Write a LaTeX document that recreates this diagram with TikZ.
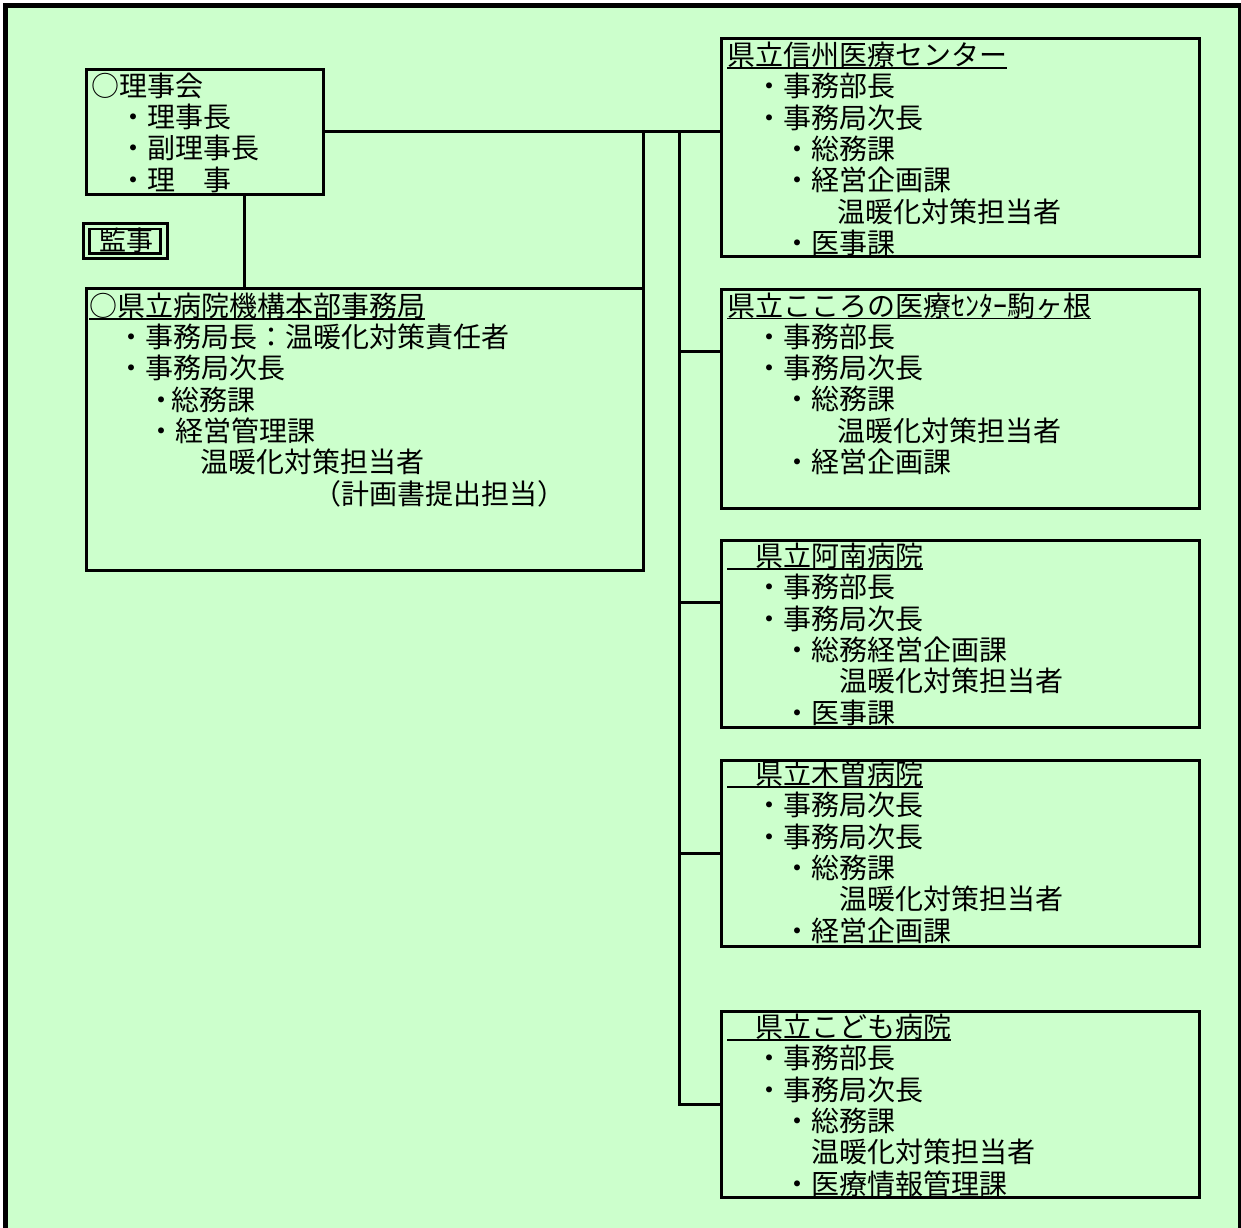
\documentclass[tikz,border=0pt]{standalone}
\usepackage{fontspec}
\newfontfamily\cjk{Noto Sans CJK JP}
\definecolor{bg}{RGB}{204,255,204}
\tikzset{
 boxn/.style={draw, line width=3pt, inner sep=0pt, outer sep=0pt, anchor=north west},
 txt/.style={anchor=base west, inner sep=0pt, outer sep=0pt, font=\cjk\fontsize{28}{31}\selectfont, text=black},
 conn/.style={line width=3pt},
 uline/.style={line width=1.8pt},
}
\newcommand\tline[4]{\node[txt] (#1) at (#2,#3) {#4};}
\newcommand\undl[1]{\draw[uline] ([yshift=-2.5pt]#1.base west) -- ([yshift=-2.5pt]#1.base east);}
\begin{document}
\begin{tikzpicture}[x=1pt,y=-1pt]
\useasboundingbox (0,0) rectangle (1241,1227);
\begin{scope}
\clip (0,0) rectangle (1241,1227);
\path[fill=bg] (5.5,5.5) rectangle (1240,1245);
\draw[line width=4.5pt] (5.5,1245) -- (5.5,5.5) -- (1240,5.5) -- (1240,1245);
\end{scope}

% boxes
\node[boxn, minimum width=237.3pt, minimum height=125pt] (rij) at (86,69) {};
\node[draw, line width=3.5pt, inner sep=0pt, minimum width=83.6pt, minimum height=34.6pt] (kanji) at (125.5,241) {};
\node[draw, line width=2.5pt, inner sep=0pt, minimum width=71.4pt, minimum height=24.5pt] (kanjiin) at (125,241.2) {};
\node[inner sep=0pt, font=\cjk\fontsize{27}{30}\selectfont] (kanjit) at (126.5,240) {監事};
\node[boxn, minimum width=557pt, minimum height=281.8pt] (hq) at (86,288.7) {};
\node[boxn, minimum width=478pt, minimum height=218pt] (r1) at (721,38) {};
\node[boxn, minimum width=478pt, minimum height=219pt] (r2) at (721,289) {};
\node[boxn, minimum width=478pt, minimum height=186.5pt] (r3) at (721,540.5) {};
\node[boxn, minimum width=478pt, minimum height=186.5pt] (r4) at (721,760) {};
\node[boxn, minimum width=478pt, minimum height=186.5pt] (r5) at (721,1011) {};

% connectors
\coordinate (spine) at (244.7,0);
\coordinate (bus) at (679,0);
\path (r2.north west) ++(0,62.3) coordinate (b2);
\path (r3.north west) ++(0,61.5) coordinate (b3);
\draw[conn] (rij.east) -- (r1.west |- rij.east);
\draw[conn] (rij.south -| spine) -- (hq.north -| spine);
\draw[conn] (hq.north east) -- (hq.north east |- rij.east);
\draw[conn] (bus |- rij.east) -- (bus |- r5.west) -- (r5.west);
\draw[conn] (bus |- b2) -- (b2);
\draw[conn] (bus |- b3) -- (b3);
\draw[conn] (bus |- r4.west) -- (r4.west);

% 理事会
\tline{a0}{91.5}{96.3}{○理事会}
\tline{a1}{119.5}{127.6}{・理事長}
\tline{a2}{119.5}{158.9}{・副理事長}
\tline{a3}{119.5}{190.2}{・理　事}

% 本部事務局
\tline{h0}{89}{316.3}{○県立病院機構本部事務局}
\undl{h0}
\tline{h1}{117}{347.6}{・事務局長：温暖化対策責任者}
\tline{h2}{117}{378.9}{・事務局次長}
\tline{h3}{147}{410.2}{・\kern-4pt 総務課}
\tline{h4}{147}{441.5}{・経営管理課}
\tline{h5}{200}{472.8}{温暖化対策担当者}
\tline{h6}{313}{504.1}{（計画書提出担当）}

% 信州
\tline{s0}{727}{65.5}{県立信州医療センター}
\undl{s0}
\tline{s1}{755}{96.8}{・事務部長}
\tline{s2}{755}{128.1}{・事務局次長}
\tline{s3}{783}{159.4}{・総務課}
\tline{s4}{783}{190.7}{・経営企画課}
\tline{s5}{837}{222}{温暖化対策担当者}
\tline{s6}{783}{253.3}{・医事課}

% こころ
\tline{k0}{727}{316}{県立こころの医療ｾﾝﾀｰ駒ヶ根}
\undl{k0}
\tline{k1}{755}{347.3}{・事務部長}
\tline{k2}{755}{378.6}{・事務局次長}
\tline{k3}{783}{409.9}{・総務課}
\tline{k4}{837}{441.2}{温暖化対策担当者}
\tline{k5}{783}{472.5}{・経営企画課}

% 阿南
\tline{n0}{727}{566.5}{　県立阿南病院}
\undl{n0}
\tline{n1}{755}{597.8}{・事務部長}
\tline{n2}{755}{629.1}{・事務局次長}
\tline{n3}{783}{660.4}{・総務経営企画課}
\tline{n4}{839}{691.7}{温暖化対策担当者}
\tline{n5}{783}{723}{・医事課}

% 木曽
\tline{m0}{727}{784.5}{　県立木曽病院}
\undl{m0}
\tline{m1}{755}{815.8}{・事務局次長}
\tline{m2}{755}{847.1}{・事務局次長}
\tline{m3}{783}{878.4}{・総務課}
\tline{m4}{839}{909.7}{温暖化対策担当者}
\tline{m5}{783}{941}{・経営企画課}

% こども
\tline{c0}{727}{1037.5}{　県立こども病院}
\undl{c0}
\tline{c1}{755}{1068.8}{・事務部長}
\tline{c2}{755}{1100.1}{・事務局次長}
\tline{c3}{783}{1131.4}{・総務課}
\tline{c4}{811}{1162.7}{温暖化対策担当者}
\tline{c5}{783}{1194}{・医療情報管理課}
\end{tikzpicture}
\end{document}
